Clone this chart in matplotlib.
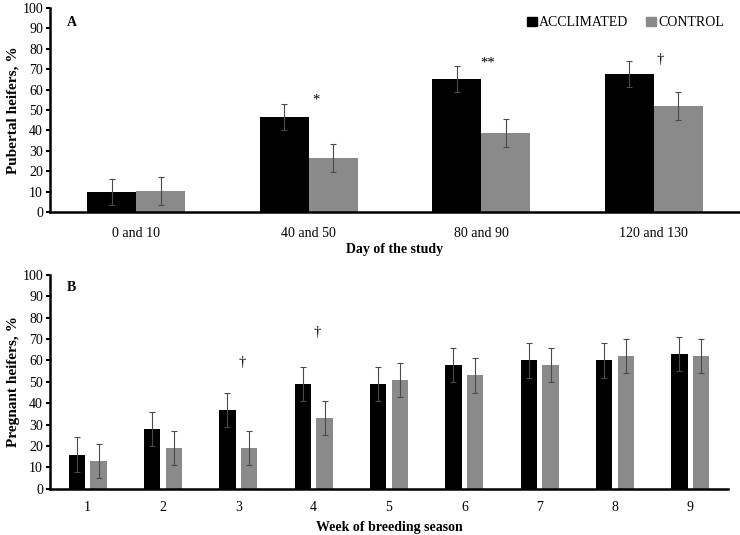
import numpy as np
import matplotlib
matplotlib.use('Agg')
import matplotlib.pyplot as plt
from matplotlib.patches import Patch

plt.rcParams['font.family'] = ['Liberation Serif', 'DejaVu Serif']
plt.rcParams['font.size'] = 10

# Panel A data
days = ['0 and 10', '40 and 50', '80 and 90', '120 and 130']
accl_a = [10, 46.5, 65, 67.5]
ctrl_a = [10.3, 26.4, 38.7, 52]
accl_a_err = [6.4, 6.4, 6.4, 6.4]
ctrl_a_err = [6.8, 6.9, 6.8, 6.7]
marks_a = ['', '*', '**', '\u2020']
mark_a_y = [0, 51.5, 70, 71.5]

# Panel B data
weeks = ['1', '2', '3', '4', '5', '6', '7', '8', '9']
accl_b = [16, 28, 37, 49, 49, 58, 60, 60, 63]
ctrl_b = [13, 19, 19, 33, 51, 53, 58, 62, 62]
accl_b_err = [8, 8, 8, 8, 8, 8, 8, 8, 8]
ctrl_b_err = [8, 8, 8, 8, 8, 8, 8, 8, 8]
marks_b = ['', '', '\u2020', '\u2020', '', '', '', '', '']
mark_b_y = [0, 0, 56, 70, 0, 0, 0, 0, 0]

black = '#000000'
grey = '#8a8a8a'
errc = '#4a4a4a'

fig = plt.figure(figsize=(7.4, 5.35), dpi=100)
axA = fig.add_axes([50/740, 323/535, 690/740, 204/535])
axB = fig.add_axes([50/740, 46.3/535, 678/740, 213.7/535])

def style(ax, pad):
    ax.spines['top'].set_visible(False)
    ax.spines['right'].set_visible(False)
    ax.spines['left'].set_linewidth(1.8)
    ax.spines['bottom'].set_linewidth(1.8)
    ax.set_ylim(0, 100)
    ax.set_yticks(np.arange(0, 101, 10))
    ax.tick_params(axis='y', direction='out', length=3, width=1.5, pad=2, labelsize=10)
    ax.tick_params(axis='x', length=0, pad=pad, labelsize=10)

ekw = dict(ecolor=errc, elinewidth=0.8, capsize=2.5, capthick=0.8)

# Panel A
x = np.arange(len(days))
w = 0.284
axA.bar(x - w/2, accl_a, w, color=black, yerr=accl_a_err, error_kw=ekw)
axA.bar(x + w/2, ctrl_a, w, color=grey, yerr=ctrl_a_err, error_kw=ekw)
axA.set_xlim(-0.5, len(days) - 0.5)
axA.set_xticks(x)
axA.set_xticklabels(days)
style(axA, 11)
for i, m in enumerate(marks_a):
    if m:
        axA.text(x[i] + 0.04, mark_a_y[i], m, ha='center', va='bottom', fontsize=10.5)
axA.set_ylabel('Pubertal heifers, %', fontweight='bold', fontsize=11, labelpad=2)
axA.set_xlabel('Day of the study', fontweight='bold', labelpad=2)
axA.text(0.025, 0.96, 'A', transform=axA.transAxes, fontweight='bold', ha='left', va='top')
handles = [Patch(color=black, label='ACCLIMATED'), Patch(color=grey, label='CONTROL')]
axA.legend(handles=handles, ncol=2, frameon=False, loc='upper right',
           bbox_to_anchor=(0.995, 1.02), handlelength=0.7, handleheight=0.7,
           handletextpad=0.15, columnspacing=1.3, fontsize=10)

# Panel B
xb = np.arange(len(weeks))
wb = 0.22
off = 0.144
axB.bar(xb - off, accl_b, wb, color=black, yerr=accl_b_err, error_kw=ekw)
axB.bar(xb + off, ctrl_b, wb, color=grey, yerr=ctrl_b_err, error_kw=ekw)
axB.set_xlim(-0.5, len(weeks) - 0.5)
axB.set_xticks(xb)
axB.set_xticklabels(weeks)
style(axB, 9)
for i, m in enumerate(marks_b):
    if m:
        axB.text(xb[i] + 0.05, mark_b_y[i], m, ha='center', va='bottom', fontsize=10.5)
axB.set_ylabel('Pregnant heifers, %', fontweight='bold', fontsize=11, labelpad=2)
axB.set_xlabel('Week of breeding season', fontweight='bold', labelpad=5)
axB.text(0.025, 0.97, 'B', transform=axB.transAxes, fontweight='bold', ha='left', va='top')

fig.savefig('out.png', dpi=100)
